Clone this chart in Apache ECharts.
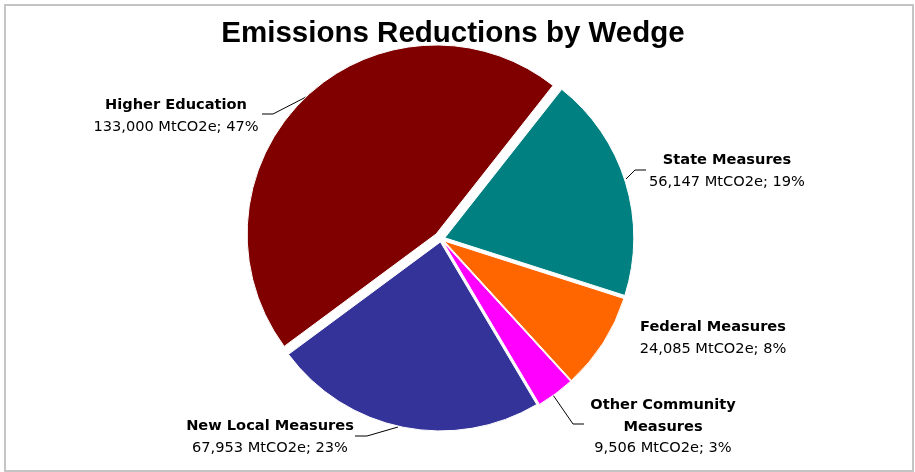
<!DOCTYPE html>
<html>
<head>
<meta charset="utf-8">
<title>Emissions Reductions by Wedge</title>
<script src="https://cdn.jsdelivr.net/npm/echarts@6/dist/echarts.min.js"></script>
<style>
html,body{margin:0;padding:0;background:#fff;}
.frame{position:absolute;left:4px;top:4px;width:906px;height:464px;border:2px solid #c4c4c4;}
#chart{position:absolute;left:0;top:0;width:915px;height:472px;}
</style>
</head>
<body>
<div class="frame"></div>
<div id="chart"></div>
<script>
// wedges, clockwise from the lower-left edge of Higher Education
var wedges = ['Higher Education', 'State Measures', 'Federal Measures', 'Other Community Measures', 'New Local Measures'];
var reductions = [133000, 56147, 24085, 9506, 67953];   // MtCO2e
var shares = [47, 19, 8, 3, 23];                        // % as printed on the chart
var colors = ['#800000', '#008080', '#FF6600', '#FF00FF', '#333399'];

// how far each wedge is pulled out of the pie (px)
var pullOut = [7, 4, 3.5, 3.5, 3];

// label placement (center of label block) and leader line bends
var labelPos = [
    {x: 176, y: 116, line: [[306, 97], [273, 114], [262, 114]]},
    {x: 727, y: 171, line: [[626, 179], [635, 170], [646, 170]]},
    {x: 713, y: 338, line: null},
    {x: 663, y: 427, line: [[553, 395], [573, 424], [584, 424]]},
    {x: 270, y: 437, line: [[398, 427], [367, 436], [355, 436]]}
];

var center = [441, 239];
var radius = 189;
var startAngle = 216.5;

var total = reductions.reduce(function (a, b) { return a + b; }, 0);

// center of wedge i after moving it along its middle angle
function wedgeCenter(i) {
    var before = reductions.slice(0, i).reduce(function (a, b) { return a + b; }, 0);
    var midDeg = startAngle - (before + reductions[i] / 2) / total * 360;
    var r = midDeg * Math.PI / 180;
    return [center[0] + pullOut[i] * Math.cos(r), center[1] - pullOut[i] * Math.sin(r)];
}

var chart = echarts.init(document.getElementById('chart'));

// every series holds all wedges (so angles match) but shows only one
function buildData(show) {
    return wedges.map(function (n, i) {
        var item = {name: n, value: reductions[i]};
        if (i === show) {
            item.itemStyle = {color: colors[i]};
            item.labelLine = {show: !!labelPos[i].line};
        } else {
            item.itemStyle = {color: 'rgba(0,0,0,0)', borderWidth: 0};
            item.label = {show: false};
            item.labelLine = {show: false};
        }
        return item;
    });
}

var labelOpt = {
    show: true,
    position: 'outside',
    formatter: function (p) {
        var i = p.dataIndex;
        var name = p.name.replace('Community ', 'Community\n');
        var head = name.split('\n').map(function (s) { return '{b|' + s + '}'; }).join('\n');
        return head + '\n{v|' + p.value.toLocaleString('en-US') + ' MtCO2e; ' + shares[i] + '%}';
    },
    rich: {
        b: {fontFamily: 'DejaVu Sans', fontSize: 14.6, fontWeight: 'bold', color: '#000', lineHeight: 21.5, align: 'center'},
        v: {fontFamily: 'DejaVu Sans', fontSize: 14.6, color: '#000', lineHeight: 21.5, align: 'center'}
    }
};

function placeLabel(p) {
    var lp = labelPos[p.dataIndex];
    var res = {x: lp.x, y: lp.y, align: 'center', verticalAlign: 'middle'};
    if (lp.line) res.labelLinePoints = lp.line;
    return res;
}

var series = wedges.map(function (n, i) {
    return {
        type: 'pie',
        name: n,
        center: wedgeCenter(i),
        radius: radius,
        startAngle: startAngle,
        clockwise: true,
        avoidLabelOverlap: false,
        selectedMode: false,
        emphasis: {disabled: true},
        itemStyle: {borderColor: '#fff', borderWidth: 1},
        label: labelOpt,
        labelLine: {show: true, lineStyle: {color: '#000', width: 1}},
        labelLayout: placeLabel,
        data: buildData(i)
    };
});

var option = {
    animation: false,
    title: {
        text: 'Emissions Reductions by Wedge',
        left: 448,
        top: 14,
        textAlign: 'center',
        textStyle: {fontFamily: 'Liberation Sans', fontSize: 29.5, fontWeight: 'bold', color: '#000'}
    },
    series: series
};

chart.setOption(option);
</script>
</body>
</html>
